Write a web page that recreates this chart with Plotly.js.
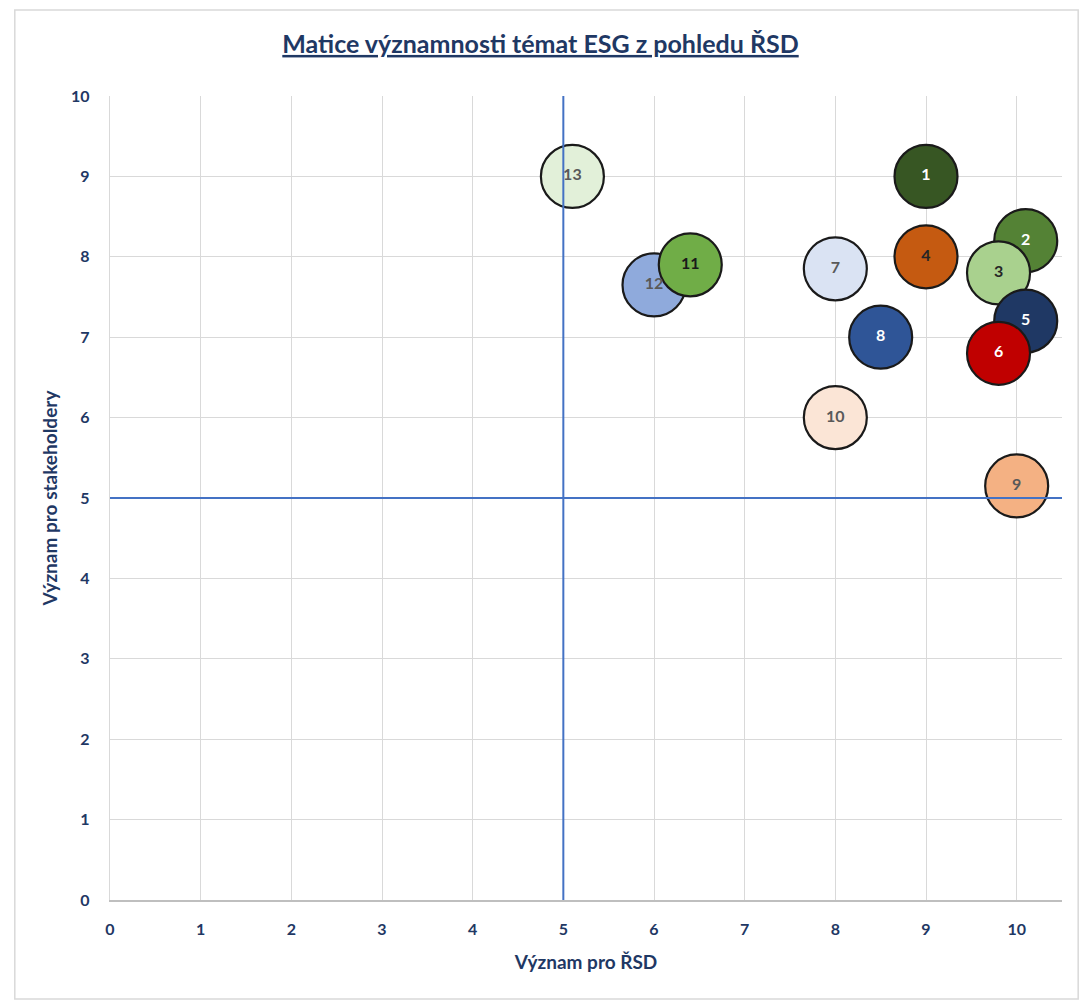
<!DOCTYPE html>
<html>
<head>
<meta charset="utf-8">
<script src="https://cdn.plot.ly/plotly-3.0.1.min.js"></script>
<style>html,body{margin:0;padding:0;background:#fff;}</style>
</head>
<body>
<div id="chart" style="width:1081px;height:1004px;"></div>
<script>
// Topic ids (draw order: 12 before 11 so 11 lies on top)
const topics = ["1","2","3","4","5","6","7","8","9","10","12","11","13"];
const vyznamRSD = [9, 10.1, 9.8, 9, 10.1, 9.8, 8, 8.5, 10, 8, 6, 6.4, 5.1];
const vyznamStakeholdery = [9, 8.2, 7.8, 8, 7.2, 6.8, 7.85, 7, 5.15, 6, 7.65, 7.9, 9];
const fillColors = ["#375623","#548235","#A9D18E","#C55A11","#1F3864","#C00000","#DAE3F3","#2F5597","#F4B183","#FBE5D6","#8FAADC","#70AD47","#E2F0D9"];
const labelColors = ["#ffffff","#ffffff","#262626","#262626","#ffffff","#ffffff","#595959","#ffffff","#595959","#595959","#595959","#1a1a1a","#595959"];
const xTicks = [0,1,2,3,4,5,6,7,8,9,10];
const yTicks = [0,1,2,3,4,5,6,7,8,9,10];

const navy = "#1F3864";
const fontFam = "Lato, 'Open Sans', sans-serif";

const trace = {
  type: "scatter",
  mode: "markers+text",
  x: vyznamRSD,
  y: vyznamStakeholdery,
  text: topics,
  textposition: "middle center",
  textfont: {family: fontFam, size: 16, color: labelColors, weight: "bold"},
  marker: {size: 63, color: fillColors, opacity: 1, line: {color: "#1a1a1a", width: 2.2}},
  hoverinfo: "skip",
  cliponaxis: false,
  showlegend: false
};

const layout = {
  width: 1081, height: 1004,
  margin: {l: 110, r: 19, t: 96, b: 104},
  paper_bgcolor: "#ffffff",
  plot_bgcolor: "#ffffff",
  font: {family: fontFam, color: navy},
  title: {
    text: "<b><span style='text-decoration:underline'>Matice významnosti témat ESG z pohledu ŘSD</span></b>",
    font: {family: fontFam, size: 25, color: navy},
    x: 0.5, xanchor: "center", y: 0.956, yanchor: "middle"
  },
  xaxis: {
    range: [0, 10.5],
    tickvals: xTicks,
    ticktext: xTicks.map(String),
    tickfont: {family: fontFam, size: 16, color: navy, weight: "bold"},
    ticklabelstandoff: 14,
    showgrid: true, gridcolor: "#d9d9d9", gridwidth: 1,
    zeroline: false,
    showline: true, linecolor: "#bfbfbf", linewidth: 2,
    ticks: "", ticklen: 0,
    title: {text: "<b>Význam pro ŘSD</b>", font: {family: fontFam, size: 19, color: navy}, standoff: 18}
  },
  yaxis: {
    range: [0, 10],
    tickvals: yTicks,
    ticktext: yTicks.map(String),
    tickfont: {family: fontFam, size: 16, color: navy, weight: "bold"},
    ticklabelstandoff: 16,
    showgrid: true, gridcolor: "#d9d9d9", gridwidth: 1,
    zeroline: false,
    showline: true, linecolor: "#d9d9d9", linewidth: 1.2,
    ticks: "", ticklen: 0,
    title: {text: "<b>Význam pro stakeholdery</b>", font: {family: fontFam, size: 19, color: navy}, standoff: 8}
  },
  shapes: [
    {type: "line", xref: "x", yref: "y", x0: 5, x1: 5, y0: 0, y1: 10, line: {color: "#4472C4", width: 2}, layer: "above"},
    {type: "line", xref: "x", yref: "y", x0: 0, x1: 10.5, y0: 5, y1: 5, line: {color: "#4472C4", width: 2}, layer: "above"},
    {type: "rect", xref: "paper", yref: "paper", x0: -0.1, x1: 1.017, y0: -0.123, y1: 1.107, line: {color: "#d9d9d9", width: 1.5}, layer: "below"}
  ]
};

Plotly.newPlot("chart", [trace], layout, {displayModeBar: false, staticPlot: true});
</script>
</body>
</html>
